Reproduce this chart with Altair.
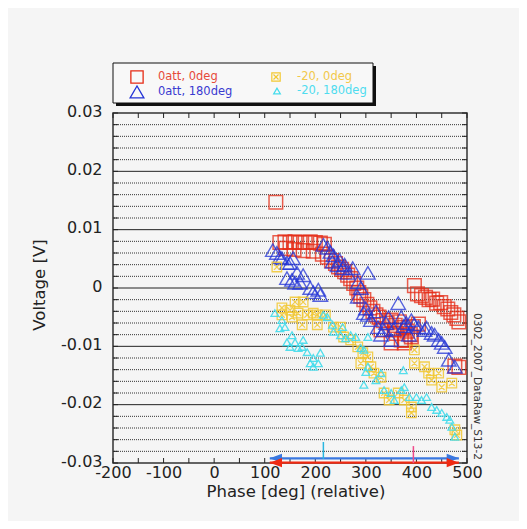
import altair as alt
import pandas as pd

# ---------------- data ----------------
red_deg = [122, 130, 140, 150, 160, 170, 180, 190, 200, 210, 218, 142, 158, 176, 196, 214,
           224, 232, 240, 246, 252, 258, 264, 270, 276, 282, 286, 290, 296, 302, 308, 314, 320,
           326, 334, 342, 350, 358, 366, 374, 382, 388, 394, 404, 378, 360,
           330, 356, 370, 390, 350, 376,
           396, 402, 410, 418, 425, 432, 440, 448, 455, 462, 468, 474, 480, 484, 476, 484]
red_v = [0.0147, 0.0078, 0.0079, 0.0078, 0.0079, 0.0078, 0.0078, 0.0079, 0.0078, 0.0077, 0.0075,
         0.0068, 0.0066, 0.0064, 0.0063, 0.0058,
         0.0053, 0.0047, 0.0042, 0.0036, 0.0032, 0.0028, 0.0022, 0.0016, 0.0008, 0.0000, -0.0008,
         -0.0014, -0.0020, -0.0028, -0.0034, -0.0040, -0.0046, -0.0050, -0.0056, -0.0060, -0.0055,
         -0.0064, -0.0058, -0.0068, -0.0074, -0.0080, -0.0066, -0.0062, -0.0090, -0.0078,
         -0.0072, -0.0072, -0.0089, -0.0084, -0.0094, -0.0094,
         0.0004, -0.0010, -0.0013, -0.0016, -0.0020, -0.0019, -0.0026, -0.0025, -0.0032, -0.0036,
         -0.0042, -0.0046, -0.0052, -0.0058, -0.0134, -0.0136]

blue_deg = [116, 124, 130, 134, 144, 156, 150, 144, 154, 164, 160, 176, 170, 190, 196, 206, 210,
            216, 224, 230, 234, 244, 254, 264, 274, 284, 290, 304, 284, 296, 304, 310, 324, 336,
            350, 364, 370, 390, 404, 416, 430, 444, 456, 464, 476, 300, 320, 340, 355, 375, 385,
            345, 330, 236, 248, 258, 380, 396, 420, 436, 450]
blue_v = [0.0065, 0.0060, 0.0053, 0.0051, 0.0043, 0.0051, 0.0043, 0.0017, 0.0014, 0.0026, 0.0009,
          0.0022, 0.0009, 0.0000, -0.0007, -0.0003, -0.0012,
          0.0074, 0.0069, 0.0062, 0.0045, 0.0039, 0.0034, 0.0026, 0.0034, 0.0010, 0.0000, 0.0026,
          -0.0015, -0.0043, -0.0046, -0.0055, -0.0067, -0.0072, -0.0089, -0.0026, -0.0050, -0.0055,
          -0.0067, -0.0072, -0.0077, -0.0089, -0.0101, -0.0123, -0.0135, -0.0035, -0.0040, -0.0060,
          -0.0070, -0.0065, -0.0080, -0.0050, -0.0080, 0.0056, 0.0048, 0.0040, -0.0060, -0.0062,
          -0.0068, -0.0080, -0.0094]

yel_deg = [124, 160, 176, 134, 150, 166, 184, 204, 220, 174, 204, 236, 250, 256, 270, 284, 294,
           304, 290, 310, 316, 330, 336, 346, 364, 376, 390, 390, 396, 396, 416, 424, 430, 444,
           450, 470, 476, 480, 134, 154, 196]
yel_v = [0.0036, -0.0024, -0.0024, -0.0034, -0.0038, -0.0043, -0.0046, -0.0046, -0.0046, -0.0063,
         -0.0063, -0.0067, -0.0067, -0.0084, -0.0089, -0.0101, -0.0111, -0.0118, -0.0129, -0.0135,
         -0.0146, -0.0153, -0.0180, -0.0192, -0.0180, -0.0192, -0.0204, -0.0214, -0.0106, -0.0129,
         -0.0135, -0.0146, -0.0158, -0.0146, -0.0170, -0.0163, -0.0243, -0.0252, -0.0046, -0.0050,
         -0.0043]

cyan_deg = [120, 134, 130, 140, 154, 144, 160, 176, 150, 166, 174, 184, 210, 196, 190, 206, 196,
            216, 224, 234, 236, 254, 250, 260, 270, 280, 290, 304, 300, 296, 296, 304, 320, 330,
            336, 350, 356, 370, 376, 374, 386, 400, 410, 420, 430, 440, 450, 460, 466, 470, 476]
cyan_v = [-0.0043, -0.0055, -0.0069, -0.0067, -0.0081, -0.0093, -0.0093, -0.0089, -0.0101, -0.0103,
          -0.0101, -0.0110, -0.0111, -0.0120, -0.0129, -0.0129, -0.0135, -0.0046, -0.0050, -0.0063,
          -0.0075, -0.0067, -0.0081, -0.0086, -0.0081, -0.0084, -0.0103, -0.0084, -0.0144, -0.0166,
          -0.0106, -0.0135, -0.0158, -0.0146, -0.0175, -0.0180, -0.0192, -0.0175, -0.0170, -0.0141,
          -0.0187, -0.0187, -0.0192, -0.0187, -0.0204, -0.0209, -0.0214, -0.0221, -0.0226, -0.0238,
          -0.0255]

x_labels = [-200, -100, 0, 100, 200, 300, 400, 500]
x_ticks = [-200, -150, -100, -50, 0, 50, 100, 150, 200, 250, 300, 350, 400, 450, 500]
y_labels = [-0.03, -0.02, -0.01, 0, 0.01, 0.02, 0.03]
grid_major = [-0.02, -0.01, 0, 0.01, 0.02]
grid_minor = [-0.028, -0.026, -0.024, -0.022, -0.018, -0.016, -0.014, -0.012, -0.008, -0.006,
              -0.004, -0.002, 0.002, 0.004, 0.006, 0.008, 0.012, 0.014, 0.016, 0.018, 0.022,
              0.024, 0.026, 0.028]
y_ticks = [-0.03] + grid_minor[:4] + [-0.02] + grid_minor[4:8] + [-0.01] + grid_minor[8:12] + [0] \
          + grid_minor[12:16] + [0.01] + grid_minor[16:20] + [0.02] + grid_minor[20:] + [0.03]

arrow_x0 = [110]
arrow_x1 = [484]
arrow_blue_y = [-0.0292]
arrow_red_y = [-0.02995]
mark_cyan = {"x": [216], "y0": [-0.0264], "y1": [-0.0293]}
mark_pink = {"x": [394], "y0": [-0.0271], "y1": [-0.0300]}

series_names = ["0att, 0deg", "0att, 180deg", "-20, 0deg", "-20, 180deg"]
footnote = "0302_2007_DataRaw_S13-2"

# ---------------- style ----------------
FONT = "DejaVu Sans"
RED, BLUE, YEL, CYAN = "#e52a14", "#2233d6", "#f2c832", "#44dcec"
BG = "#f5f5f5"
W, H = 354, 350

xs = alt.Scale(domain=[-200, 500], nice=False, zero=False)
ys = alt.Scale(domain=[-0.03, 0.03], nice=False, zero=False)
xax = alt.Axis(values=x_labels, labelExpr="toString(datum.value)", ticks=False, domain=False,
               grid=False, title=None, labelFontSize=16, labelFont=FONT, labelColor="#222",
               labelPadding=1, labelFlush=False, labelOverlap=False)
yax = alt.Axis(values=y_labels,
               labelExpr="datum.value == 0 ? '0' : toString(round(datum.value*100)/100)",
               ticks=False, domain=False, grid=False, title=None, labelFontSize=16,
               labelFont=FONT, labelColor="#222", labelPadding=11, labelFlush=False,
               labelOverlap=False, labelOffset=-2)


def X(f="x"):
    return alt.X(f"{f}:Q", scale=xs, axis=xax)


def Y(f="y"):
    return alt.Y(f"{f}:Q", scale=ys, axis=yax)


one = pd.DataFrame({"k": [0]})

layers = []

# gridlines
layers.append(alt.Chart(pd.DataFrame({"y": grid_minor})).mark_rule(
    color="#333", strokeWidth=1, strokeDash=[1, 1]).encode(y=Y()))
layers.append(alt.Chart(pd.DataFrame({"y": grid_major})).mark_rule(
    color="#222", strokeWidth=1).encode(y=Y()))

# ticks (inward, all four sides)
xt = pd.DataFrame({"x": x_ticks})
layers.append(alt.Chart(xt).mark_rule(color="#222").encode(x=X(), y=alt.value(H), y2=alt.value(H - 5)))
layers.append(alt.Chart(xt).mark_rule(color="#222").encode(x=X(), y=alt.value(0), y2=alt.value(5)))
yt = pd.DataFrame({"y": y_ticks})
layers.append(alt.Chart(yt).mark_rule(color="#222").encode(y=Y(), x=alt.value(0), x2=alt.value(5)))
layers.append(alt.Chart(yt).mark_rule(color="#222").encode(y=Y(), x=alt.value(W - 5), x2=alt.value(W)))

# data series
layers.append(alt.Chart(pd.DataFrame({"x": red_deg, "y": red_v})).mark_point(
    shape="square", size=185, filled=False, color=RED, strokeWidth=1.5, opacity=0.75
).encode(x=X(), y=Y()))
layers.append(alt.Chart(pd.DataFrame({"x": blue_deg, "y": blue_v})).mark_point(
    shape="triangle-up", size=210, filled=False, color=BLUE, strokeWidth=1.4, opacity=0.75
).encode(x=X(), y=Y()))
SQX = "M-1,-1H1V1H-1Z M-0.6,-0.6L0.6,0.6 M0.6,-0.6L-0.6,0.6"
layers.append(alt.Chart(pd.DataFrame({"x": yel_deg, "y": yel_v})).mark_point(
    shape=SQX, size=90, filled=False, color=YEL, strokeWidth=1.3, opacity=0.85
).encode(x=X(), y=Y()))
layers.append(alt.Chart(pd.DataFrame({"x": cyan_deg, "y": cyan_v})).mark_point(
    shape="triangle-up", size=60, filled=False, color=CYAN, strokeWidth=1.3, opacity=0.9
).encode(x=X(), y=Y()))

# arrows at bottom
LHEAD = "M0,0L2,-0.75L2,0.75Z"
RHEAD = "M0,0L-2,-0.75L-2,0.75Z"
for yv, col in [(arrow_blue_y, "#3a78e0"), (arrow_red_y, "#f02a12")]:
    ad = pd.DataFrame({"x": arrow_x0, "x2": arrow_x1, "y": yv})
    layers.append(alt.Chart(ad).mark_rule(color=col, strokeWidth=2.2).encode(
        x=X(), x2="x2:Q", y=Y()))
    layers.append(alt.Chart(ad).mark_point(shape=LHEAD, size=150, filled=True, color=col, opacity=1).encode(
        x=X(), y=Y()))
    layers.append(alt.Chart(ad).mark_point(shape=RHEAD, size=150, filled=True, color=col, opacity=1).encode(
        x=X("x2"), y=Y()))
for m, col in [(mark_cyan, "#2ab6e0"), (mark_pink, "#f04a8a")]:
    layers.append(alt.Chart(pd.DataFrame(m)).mark_rule(color=col, strokeWidth=1.5).encode(
        x=X(), y=Y("y0"), y2="y1:Q"))

# axis titles
layers.append(alt.Chart(one).mark_text(text="Voltage [V]", angle=270, font=FONT, fontSize=16.5,
                                       color="#222", align="center", baseline="middle").encode(
    x=alt.value(-73), y=alt.value(172)))
layers.append(alt.Chart(one).mark_text(text="Phase [deg] (relative)", font=FONT, fontSize=16.5,
                                       color="#222", align="center", baseline="middle").encode(
    x=alt.value(183), y=alt.value(379)))
layers.append(alt.Chart(one).mark_text(text=footnote, angle=90, font=FONT, fontSize=10.5,
                                       color="#333", align="left", baseline="middle").encode(
    x=alt.value(364), y=alt.value(200)))

# legend box
layers.append(alt.Chart(one).mark_rect(color="#111").encode(
    x=alt.value(3), x2=alt.value(263), y=alt.value(-47), y2=alt.value(-7)))
layers.append(alt.Chart(one).mark_rect(fill="#f8f8f8", stroke="#111", strokeWidth=1).encode(
    x=alt.value(0), x2=alt.value(260), y=alt.value(-50), y2=alt.value(-10)))
leg = [
    ("square", 150, RED, 24, -36, 45, series_names[0], "#e64a3a", 1.3),
    ("triangle-up", 190, BLUE, 24, -21, 45, series_names[1], "#3a3ad0", 1.3),
    (SQX, 70, YEL, 163, -36, 184, series_names[2], "#f2c84a", 1.2),
    ("triangle-up", 45, CYAN, 164, -22, 184, series_names[3], "#4fdcef", 1.2),
]
for shp, sz, col, sx, sy, tx, label, tcol, sw in leg:
    layers.append(alt.Chart(one).mark_point(shape=shp, size=sz, filled=False, color=col,
                                            strokeWidth=sw, opacity=1).encode(
        x=alt.value(sx), y=alt.value(sy)))
    layers.append(alt.Chart(one).mark_text(text=label, font=FONT, fontSize=11.5, color=tcol,
                                           align="left", baseline="middle").encode(
        x=alt.value(tx), y=alt.value(sy)))

chart = alt.layer(*layers).properties(
    width=W, height=H,
    autosize=alt.AutoSizeParams(type="none"),
    padding={"left": 105, "top": 105, "right": 52, "bottom": 58},
    background=BG,
).configure_view(stroke="#333", strokeWidth=1.5)

chart.save("out.html", embed_options={"renderer": "svg", "actions": False})
